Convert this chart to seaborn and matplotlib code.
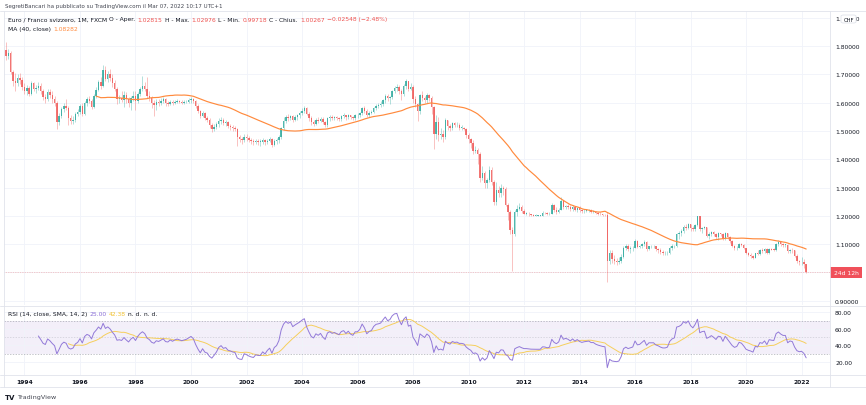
import numpy as np
import pandas as pd
import matplotlib
matplotlib.use('Agg')
import matplotlib.pyplot as plt
from matplotlib.patches import FancyBboxPatch, Rectangle
import seaborn as sns

# EUR/CHF monthly bars, May 1993 .. Mar 2022
first_month = '1993-05'
first_open = 1.785

closes = [
    1.765, 1.775, 1.708, 1.675, 1.668, 1.688, 1.680, 1.655,
    1.640, 1.652, 1.632, 1.668, 1.648, 1.652, 1.660, 1.642, 1.620, 1.612, 1.638, 1.628,
    1.612, 1.598, 1.530, 1.552, 1.578, 1.590, 1.582, 1.545, 1.535, 1.540, 1.560, 1.568,
    1.588, 1.560, 1.598, 1.612, 1.606, 1.585, 1.625, 1.645, 1.672, 1.660, 1.715, 1.685,
    1.700, 1.688, 1.668, 1.650, 1.612, 1.615, 1.610, 1.628, 1.612, 1.598, 1.615, 1.625,
    1.605, 1.630, 1.648, 1.660, 1.650, 1.625, 1.615, 1.598, 1.592, 1.604, 1.600, 1.606,
    1.612, 1.598, 1.596, 1.604, 1.598, 1.603, 1.606, 1.603, 1.600, 1.602, 1.604, 1.608,
    1.612, 1.606, 1.588, 1.570, 1.552, 1.562, 1.545, 1.540, 1.520, 1.508, 1.515, 1.523,
    1.535, 1.540, 1.528, 1.530, 1.518, 1.515, 1.510, 1.508, 1.478, 1.470, 1.468, 1.480,
    1.475, 1.468, 1.463, 1.460, 1.465, 1.462, 1.462, 1.468, 1.460, 1.466, 1.470, 1.452,
    1.463, 1.467, 1.478, 1.510, 1.535, 1.550, 1.545, 1.552, 1.540, 1.548, 1.555, 1.562,
    1.572, 1.580, 1.560, 1.545, 1.530, 1.525, 1.540, 1.535, 1.542, 1.530, 1.522, 1.545,
    1.550, 1.545, 1.548, 1.545, 1.542, 1.552, 1.555, 1.548, 1.555, 1.548, 1.545, 1.555,
    1.555, 1.562, 1.580, 1.572, 1.558, 1.565, 1.568, 1.582, 1.590, 1.592, 1.595, 1.608,
    1.622, 1.615, 1.620, 1.640, 1.652, 1.655, 1.642, 1.632, 1.660, 1.675, 1.650, 1.655,
    1.612, 1.595, 1.570, 1.628, 1.618, 1.608, 1.628, 1.618, 1.585, 1.490, 1.530, 1.485,
    1.490, 1.478, 1.538, 1.518, 1.510, 1.528, 1.520, 1.522, 1.512, 1.512, 1.508, 1.485,
    1.470, 1.458, 1.430, 1.432, 1.418, 1.335, 1.350, 1.315, 1.325, 1.362, 1.318, 1.250,
    1.290, 1.280, 1.300, 1.296, 1.240, 1.215, 1.150, 1.135, 1.215, 1.225, 1.232, 1.218,
    1.208, 1.208, 1.205, 1.202, 1.201, 1.201, 1.201, 1.201, 1.211, 1.210, 1.205, 1.207,
    1.238, 1.222, 1.215, 1.222, 1.252, 1.232, 1.236, 1.232, 1.224, 1.232, 1.222, 1.228,
    1.220, 1.216, 1.218, 1.219, 1.220, 1.215, 1.215, 1.210, 1.207, 1.205, 1.203, 1.202,
    1.040, 1.070, 1.048, 1.042, 1.038, 1.040, 1.055, 1.085, 1.092, 1.082, 1.085, 1.088,
    1.112, 1.090, 1.092, 1.100, 1.108, 1.082, 1.092, 1.092, 1.092, 1.082, 1.078, 1.072,
    1.068, 1.068, 1.070, 1.085, 1.092, 1.095, 1.135, 1.138, 1.145, 1.162, 1.158, 1.170,
    1.158, 1.152, 1.168, 1.198, 1.152, 1.158, 1.160, 1.130, 1.135, 1.142, 1.135, 1.126,
    1.139, 1.137, 1.118, 1.138, 1.125, 1.110, 1.095, 1.085, 1.088, 1.102, 1.098, 1.085,
    1.068, 1.062, 1.058, 1.052, 1.068, 1.065, 1.078, 1.075, 1.082, 1.068, 1.083, 1.081,
    1.080, 1.102, 1.108, 1.102, 1.098, 1.098, 1.075, 1.080, 1.078, 1.058, 1.042, 1.037,
    1.038, 1.02815, 1.00267,
]

highs = [
    1.815, 1.790, 1.782, 1.715, 1.705, 1.700, 1.705, 1.690,
    1.668, 1.662, 1.660, 1.675, 1.672, 1.662, 1.672, 1.668, 1.650, 1.632, 1.648, 1.650,
    1.640, 1.625, 1.605, 1.565, 1.585, 1.600, 1.612, 1.590, 1.558, 1.552, 1.568, 1.578,
    1.595, 1.598, 1.605, 1.620, 1.625, 1.612, 1.632, 1.655, 1.680, 1.690, 1.733, 1.728,
    1.712, 1.718, 1.700, 1.680, 1.655, 1.628, 1.640, 1.642, 1.638, 1.620, 1.625, 1.640,
    1.640, 1.638, 1.655, 1.696, 1.672, 1.690, 1.640, 1.625, 1.610, 1.612, 1.612, 1.615,
    1.620, 1.615, 1.605, 1.610, 1.608, 1.610, 1.612, 1.610, 1.608, 1.610, 1.610, 1.615,
    1.620, 1.618, 1.610, 1.595, 1.575, 1.570, 1.568, 1.552, 1.545, 1.528, 1.525, 1.530,
    1.545, 1.548, 1.545, 1.540, 1.535, 1.525, 1.520, 1.518, 1.512, 1.485, 1.478, 1.488,
    1.488, 1.482, 1.475, 1.470, 1.472, 1.472, 1.470, 1.475, 1.472, 1.472, 1.478, 1.475,
    1.470, 1.475, 1.485, 1.515, 1.548, 1.558, 1.560, 1.558, 1.555, 1.555, 1.560, 1.570,
    1.582, 1.588, 1.585, 1.568, 1.552, 1.538, 1.545, 1.548, 1.550, 1.548, 1.535, 1.550,
    1.555, 1.558, 1.552, 1.552, 1.550, 1.555, 1.562, 1.558, 1.560, 1.558, 1.552, 1.560,
    1.562, 1.568, 1.585, 1.590, 1.578, 1.570, 1.575, 1.585, 1.595, 1.600, 1.605, 1.612,
    1.630, 1.632, 1.625, 1.645, 1.658, 1.665, 1.662, 1.648, 1.665, 1.682, 1.678, 1.668,
    1.662, 1.622, 1.600, 1.632, 1.640, 1.625, 1.635, 1.632, 1.625, 1.588, 1.555, 1.548,
    1.510, 1.502, 1.545, 1.540, 1.525, 1.532, 1.530, 1.530, 1.528, 1.520, 1.515, 1.510,
    1.492, 1.475, 1.468, 1.448, 1.440, 1.425, 1.375, 1.360, 1.335, 1.375, 1.372, 1.325,
    1.318, 1.305, 1.312, 1.305, 1.302, 1.245, 1.220, 1.160, 1.222, 1.240, 1.245, 1.240,
    1.225, 1.215, 1.212, 1.208, 1.205, 1.205, 1.204, 1.204, 1.218, 1.215, 1.212, 1.212,
    1.245, 1.242, 1.230, 1.228, 1.266, 1.255, 1.240, 1.242, 1.238, 1.238, 1.235, 1.232,
    1.235, 1.225, 1.225, 1.225, 1.224, 1.223, 1.220, 1.218, 1.215, 1.212, 1.207, 1.206,
    1.213, 1.078, 1.080, 1.062, 1.050, 1.055, 1.065, 1.095, 1.102, 1.100, 1.095, 1.092,
    1.118, 1.115, 1.098, 1.105, 1.115, 1.112, 1.095, 1.098, 1.098, 1.095, 1.088, 1.085,
    1.078, 1.075, 1.075, 1.092, 1.100, 1.098, 1.140, 1.148, 1.155, 1.168, 1.170, 1.175,
    1.172, 1.165, 1.172, 1.200, 1.200, 1.162, 1.165, 1.162, 1.142, 1.148, 1.148, 1.140,
    1.142, 1.140, 1.140, 1.142, 1.140, 1.130, 1.115, 1.098, 1.095, 1.105, 1.105, 1.102,
    1.088, 1.072, 1.070, 1.062, 1.070, 1.080, 1.082, 1.085, 1.085, 1.085, 1.088, 1.088,
    1.088, 1.105, 1.115, 1.110, 1.105, 1.102, 1.100, 1.082, 1.085, 1.080, 1.065, 1.045,
    1.055, 1.048, 1.02976,
]

lows = [
    1.752, 1.755, 1.700, 1.660, 1.640, 1.660, 1.665, 1.645,
    1.630, 1.628, 1.622, 1.628, 1.640, 1.635, 1.645, 1.632, 1.610, 1.600, 1.605, 1.618,
    1.598, 1.590, 1.507, 1.520, 1.545, 1.568, 1.575, 1.520, 1.525, 1.525, 1.532, 1.552,
    1.560, 1.552, 1.555, 1.590, 1.598, 1.578, 1.580, 1.615, 1.640, 1.650, 1.655, 1.675,
    1.672, 1.675, 1.655, 1.640, 1.595, 1.600, 1.602, 1.585, 1.600, 1.585, 1.575, 1.605,
    1.575, 1.598, 1.622, 1.640, 1.640, 1.615, 1.605, 1.580, 1.552, 1.575, 1.590, 1.592,
    1.598, 1.590, 1.588, 1.592, 1.592, 1.595, 1.598, 1.598, 1.595, 1.595, 1.598, 1.600,
    1.600, 1.600, 1.582, 1.565, 1.545, 1.548, 1.540, 1.530, 1.510, 1.495, 1.500, 1.508,
    1.515, 1.525, 1.520, 1.518, 1.510, 1.505, 1.500, 1.500, 1.448, 1.460, 1.455, 1.460,
    1.465, 1.460, 1.455, 1.452, 1.455, 1.452, 1.448, 1.455, 1.452, 1.455, 1.460, 1.445,
    1.448, 1.455, 1.458, 1.470, 1.505, 1.528, 1.535, 1.538, 1.530, 1.535, 1.540, 1.545,
    1.555, 1.565, 1.555, 1.535, 1.522, 1.518, 1.520, 1.528, 1.530, 1.525, 1.515, 1.515,
    1.535, 1.540, 1.538, 1.538, 1.535, 1.535, 1.545, 1.540, 1.542, 1.542, 1.538, 1.540,
    1.545, 1.548, 1.558, 1.565, 1.548, 1.550, 1.560, 1.565, 1.575, 1.582, 1.585, 1.590,
    1.600, 1.605, 1.595, 1.612, 1.635, 1.640, 1.632, 1.610, 1.625, 1.650, 1.640, 1.645,
    1.600, 1.585, 1.536, 1.560, 1.605, 1.600, 1.600, 1.605, 1.560, 1.436, 1.470, 1.465,
    1.470, 1.460, 1.470, 1.505, 1.500, 1.505, 1.515, 1.515, 1.505, 1.505, 1.502, 1.475,
    1.458, 1.440, 1.420, 1.422, 1.385, 1.320, 1.325, 1.300, 1.300, 1.320, 1.310, 1.240,
    1.238, 1.265, 1.265, 1.275, 1.235, 1.185, 1.135, 1.005, 1.130, 1.198, 1.220, 1.210,
    1.205, 1.202, 1.200, 1.199, 1.198, 1.198, 1.199, 1.199, 1.200, 1.205, 1.203, 1.203,
    1.205, 1.215, 1.208, 1.210, 1.220, 1.225, 1.225, 1.225, 1.218, 1.218, 1.218, 1.215,
    1.212, 1.210, 1.210, 1.212, 1.212, 1.210, 1.210, 1.205, 1.204, 1.202, 1.200, 1.200,
    0.966, 1.030, 1.035, 1.030, 1.025, 1.030, 1.035, 1.050, 1.078, 1.075, 1.070, 1.075,
    1.085, 1.085, 1.085, 1.088, 1.095, 1.075, 1.078, 1.085, 1.085, 1.075, 1.068, 1.065,
    1.062, 1.062, 1.062, 1.065, 1.080, 1.085, 1.090, 1.120, 1.130, 1.140, 1.150, 1.155,
    1.145, 1.145, 1.148, 1.165, 1.145, 1.140, 1.152, 1.125, 1.118, 1.130, 1.130, 1.120,
    1.115, 1.128, 1.115, 1.115, 1.120, 1.105, 1.090, 1.080, 1.080, 1.085, 1.092, 1.082,
    1.065, 1.058, 1.052, 1.048, 1.050, 1.060, 1.062, 1.070, 1.070, 1.065, 1.065, 1.078,
    1.075, 1.075, 1.095, 1.095, 1.090, 1.090, 1.070, 1.068, 1.070, 1.055, 1.035, 1.028,
    1.028, 1.015, 0.99718,
]

price_ticks = [0.9, 1.0, 1.1, 1.2, 1.3, 1.4, 1.5, 1.6, 1.7, 1.8, 1.9]
rsi_ticks = [20, 40, 60, 80]
year_labels = list(range(1994, 2023, 2))

assert len(closes) == len(highs) == len(lows)

months = pd.period_range(first_month, periods=len(closes), freq='M')
df = pd.DataFrame({'close': closes, 'high': highs, 'low': lows})
df['open'] = df['close'].shift(1).fillna(first_open)
df['x'] = np.arange(len(df))
df['ma40'] = df['close'].rolling(40).mean()

# RSI 14 (Wilder) and its 14-bar SMA
delta = df['close'].diff()
gain = delta.clip(lower=0).ewm(alpha=1 / 14, adjust=False, min_periods=14).mean()
loss = (-delta.clip(upper=0)).ewm(alpha=1 / 14, adjust=False, min_periods=14).mean()
df['rsi'] = 100 - 100 / (1 + gain / loss)
df['rsi_ma'] = df['rsi'].rolling(14).mean()

UP, DOWN = '#26a69a', '#ef5350'
GRID = '#f0f3fa'
TXT = '#131722'
BORDER = '#e0e3eb'

sns.set_style('white')
plt.rcParams['font.family'] = ['DejaVu Sans']

W, H = 866, 406
fig = plt.figure(figsize=(W / 100, H / 100), dpi=100)


def fy(y):
    return 1 - y / H


ax = fig.add_axes([4 / W, fy(306), 826 / W, 294 / H])
ax2 = fig.add_axes([4 / W, fy(376), 826 / W, 69 / H], sharex=ax)

# candles
up = df['close'] >= df['open']
col = np.where(up, UP, DOWN)
ax.vlines(df['x'], df['low'], df['high'], colors=col, linewidth=0.45, alpha=0.55, zorder=2)
body_lo = np.minimum(df['open'], df['close'])
body_h = np.maximum((df['close'] - df['open']).abs(), 0.0015)
ax.bar(df['x'], body_h, bottom=body_lo, width=0.62, color=col, linewidth=0, alpha=0.8, zorder=3)

sns.lineplot(data=df, x='x', y='ma40', ax=ax, color='#ff8a3d', linewidth=0.85, zorder=4)

# last price line
last = df['close'].iloc[-1]
ax.axhline(last, color=DOWN, linewidth=0.5, linestyle=(0, (1, 1.5)), alpha=0.55, zorder=1)

ax.set_ylim(0.885, 1.924)
ax.set_xlim(-0.86, 356.3)
ax.set_yticks(price_ticks)
ax.set_yticklabels([f'{v:.5f}' for v in price_ticks])
ax.yaxis.tick_right()
ax.tick_params(axis='y', length=0, pad=3.6, labelsize=4.3, labelcolor=TXT)
ax.tick_params(axis='x', length=0, labelbottom=False)
ax.grid(True, color=GRID, linewidth=0.6)
ax.set_xlabel('')
ax.set_ylabel('')

jan_idx = [(y - 1993) * 12 - 4 for y in year_labels]
ax.set_xticks(jan_idx)

# RSI panel
ax2.axhspan(30, 70, color='#7e57c2', alpha=0.09, linewidth=0, zorder=0)
for lvl, a in [(70, 0.8), (50, 0.4), (30, 0.8)]:
    ax2.axhline(lvl, color='#9598a1', linewidth=0.5, linestyle=(0, (2, 2)), alpha=a, zorder=1)
sns.lineplot(data=df, x='x', y='rsi_ma', ax=ax2, color='#f6cf5c', linewidth=0.7, zorder=3)
sns.lineplot(data=df, x='x', y='rsi', ax=ax2, color='#9279d8', linewidth=0.7, zorder=4)
ax2.set_ylim(4.3, 87.5)
ax2.set_yticks(rsi_ticks)
ax2.set_yticklabels([f'{v:.2f}' for v in rsi_ticks])
ax2.yaxis.tick_right()
ax2.tick_params(axis='y', length=0, pad=3.6, labelsize=4.3, labelcolor=TXT)
ax2.set_xticks(jan_idx)
ax2.set_xticklabels([str(y) for y in year_labels])
ax2.tick_params(axis='x', length=0, pad=3.0, labelsize=4.3, labelcolor=TXT)
for t in ax2.get_xticklabels():
    t.set_fontweight('semibold')
ax2.grid(True, color=GRID, linewidth=0.6)
ax2.set_xlabel('')
ax2.set_ylabel('')

for a in (ax, ax2):
    for s in a.spines.values():
        s.set_visible(False)

# frame lines like the TradingView layout
lines = [
    ((0, W), (12, 12)), ((0, W), (306.5, 306.5)), ((0, W), (376, 376)),
    ((0, W), (388, 388)), ((830, 830), (12, 388)), ((4, 4), (12, 388)),
]
for xs, ys in lines:
    fig.add_artist(plt.Line2D([x / W for x in xs], [fy(y) for y in ys],
                              color=BORDER, linewidth=0.6))


def text_run(x, y, parts, size=4.3):
    r = fig.canvas.get_renderer()
    for s, c in parts:
        t = fig.text(x / W, fy(y), s, color=c, fontsize=size, va='center', ha='left')
        x = t.get_window_extent(r).x1 + 2.2


fig.text(5 / W, fy(6.5), 'SegretiBancari ha pubblicato su TradingView.com il Mar 07, 2022 10:17 UTC+1',
         fontsize=4.0, color='#434651', va='center')
text_run(8, 20, [('Euro / Franco svizzero, 1M, FXCM', TXT), ('O - Aper.', TXT), ('1.02815', DOWN),
                 ('H - Max.', TXT), ('1.02976', DOWN), ('L - Min.', TXT), ('0.99718', DOWN),
                 ('C - Chius.', TXT), ('1.00267', DOWN), ('\u22120.02548 (\u22122.48%)', DOWN)])
text_run(8, 29.5, [('MA (40, close)', TXT), (f'{df["ma40"].iloc[-1]:.5f}', '#ff8a3d')])
text_run(8, 315, [('RSI (14, close, SMA, 14, 2)', TXT), (f'{df["rsi"].iloc[-1]:.2f}', '#8a6fd6'),
                  (f'{df["rsi_ma"].iloc[-1]:.2f}', '#f2c230'), ('n. d.', TXT), ('n. d.', TXT)])

# CHF badge and countdown label on the price scale
fig.add_artist(FancyBboxPatch((841 / W, fy(24)), 15 / W, 8 / H,
                              boxstyle='round,pad=0,rounding_size=0.003',
                              facecolor='white', edgecolor=BORDER, linewidth=0.6))
fig.text(848.5 / W, fy(20), 'CHF', fontsize=3.8, color=TXT, ha='center', va='center')
yl = 273.5
fig.add_artist(Rectangle((830 / W, fy(yl + 5.5)), 32 / W, 11 / H, facecolor='#f0505a', edgecolor='none'))
fig.text(846 / W, fy(yl), '24d 12h', fontsize=4.3, color='white', ha='center', va='center')

# TradingView footer
fig.text(5 / W, fy(398), 'TV', fontsize=5, color=TXT, fontweight='bold', va='center')
fig.text(17 / W, fy(398), 'TradingView', fontsize=4.6, color='#434651', va='center')

fig.savefig('out.png', dpi=100, facecolor='white')
